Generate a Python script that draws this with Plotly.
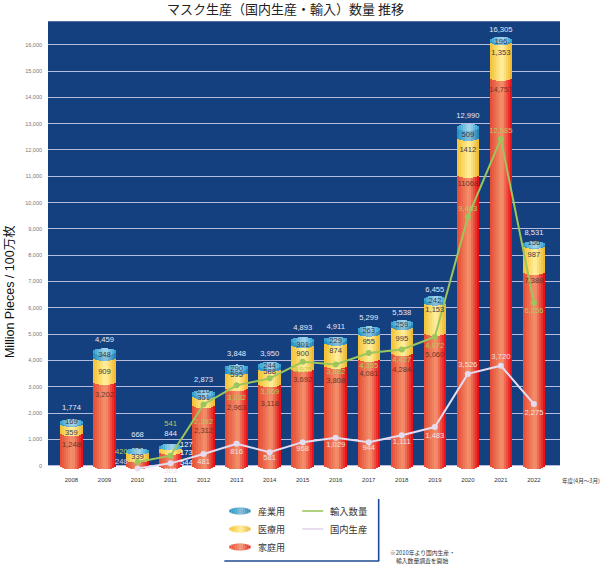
import plotly.graph_objects as go

# ---------- data ----------
years = list(range(2008, 2023))
household = [1248, 3202, 248, 544, 2312, 2963, 3118, 3692, 3808, 4081, 4284, 5060, 11068, 14757, 7388]
medical = [359, 909, 339, 173, 351, 595, 588, 900, 874, 955, 995, 1153, 1412, 1353, 987]
industrial = [169, 348, 78, 127, 210, 290, 244, 301, 229, 263, 259, 242, 509, 196, 156]
totals = [1774, 4459, 668, 844, 2873, 3848, 3950, 4893, 4911, 5299, 5538, 6455, 12990, 16305, 8531]

line_years = list(range(2010, 2023))
imports_drawn = [140, 380, 2330, 3055, 3320, 3950, 3850, 4280, 4420, 4890, 9450, 12420, 6195]
domestic_drawn = [-110, 90, 445, 830, 510, 895, 1060, 895, 1155, 1470, 3490, 3800, 2345]
imports_text = ["420", "541", "2,392", "3,032", "3,369", "3,925", "3,882", "4,355", "4,427", "4,972", "9,463", "12,585", "6,256"]
domestic_text = ["300", "303", "481", "816", "581", "968", "1,029", "944", "1,111", "1,483", "3,526", "3,720", "2,275"]

total_text = ["1,774", "4,459", "668", "844", "2,873", "3,848", "3,950", "4,893", "4,911", "5,299", "5,538", "6,455", "12,990", "16,305", "8,531"]
household_text = ["1,248", "3,202", "248", "544", "2,312", "2,963", "3,118", "3,692", "3,808", "4,081", "4,284", "5,060", "11068", "14,757", "7,388"]
medical_text = ["359", "909", "339", "173", "351", "595", "588", "900", "874", "955", "995", "1,153", "1412", "1,353", "987"]
industrial_text = ["169", "348", "78", "127", "210", "290", "244", "301", "229", "263", "259", "242", "509", "196", "156"]

y_ticks = list(range(0, 17000, 1000))
legend_bars = ["産業用", "医療用", "家庭用"]
legend_lines = ["輸入数量", "国内生産"]

# ---------- label placement (axis units) ----------
total_ly = [2177, 4785, 1165, 1190, 3240, 4228, 4228, 5215, 5280, 5607, 5810, 6683, 13270, 16560, 8840]
house_ly = [790, 2680, 140, 110, 1316, 2200, 2354, 3250, 3215, 3468, 3630, 4200, 10700, 14280, 7020]
med_ly = [1253, 3544, 340, 470, 2557, 3460, 3550, 4240, 4340, 4680, 4800, 5900, 12000, 15700, 8000]
ind_ly = [1658, 4200, 700, 785, 2850, 3680, 3800, 4600, 4720, 5100, 5350, 6270, 12570, 16100, 8450]
house_dx = [0, 0, -0.49, 0.48] + [0] * 11
med_dx = [0, 0, 0, 0.48] + [0] * 11
ind_dx = [0, 0, 0, 0.48] + [0] * 11
imp_ly = [500, 1570, 1658, 2580, 2810, 3630, 3545, 3785, 4000, 4544, 9770, 12720, 5880]
imp_dx = [-0.49] + [0] * 12
dom_ly = [-340, -190, 150, 530, 300, 620, 785, 660, 885, 1115, 3820, 4130, 2000]

# ---------- style ----------
NAVY = "#14407f"
GRID = "#b8bcdc"
NUM_FONT = "Liberation Sans"
JP_FONT = "Noto Sans CJK JP"
RED = ["#e64a32", "#f2946e", "#e60510"]
YEL = ["#f4c030", "#fff0a0", "#eeb525"]
BLU = ["#1a90c4", "#8cc0da", "#1a80b4"]
CAP = ["#2f9fd0", "#a8d6ea", "#28a0d4"]
H = 130.0
BAR_W = 0.68
N = 11
W, HT = 600, 564
L, R, T, B = 47.5, 40, 21, 91


def hex2(c):
    return [int(c[i:i + 2], 16) for i in (1, 3, 5)]


def grad(stops, u):
    a, b = (stops[0], stops[1]) if u < 0.1 else (stops[1], stops[2])
    t = (u + 1) / 1.1 if u < 0.1 else (u - 0.1) / 0.9
    ca, cb = hex2(a), hex2(b)
    return "rgb(%d,%d,%d)" % tuple(round(p + (q - p) * t) for p, q in zip(ca, cb))


def bulge(u):
    return H * max(0.0, 1 - u * u) ** 0.5


fig = go.Figure()
red_top = household
yel_top = [a + b for a, b in zip(household, medical)]
body_top = [t - H for t in totals]
lows = {"r": [0] * 15, "y": red_top, "b": yel_top}

for stops, low, high, top_curve in [
    (RED, lows["r"], red_top, False),
    (YEL, lows["y"], yel_top, False),
    (BLU, lows["b"], body_top, False),
    (CAP, body_top, body_top, True),
]:
    for i in range(N):
        u = -1 + (2 * i + 1) / N
        d = bulge(u)
        base = [v - d for v in low]
        tops = [v + d for v in high] if top_curve else high
        fig.add_trace(go.Bar(
            x=years, y=[t - b for t, b in zip(tops, base)], base=base,
            width=BAR_W / N * 1.1,
            offset=-BAR_W / 2 + i * BAR_W / N,
            marker=dict(color=grad(stops, u), line_width=0),
            hoverinfo="skip", showlegend=False, cliponaxis=False,
        ))

# lines
fig.add_trace(go.Scatter(x=line_years, y=imports_drawn, mode="lines+markers",
                         line=dict(color="#9cc65c", width=2), marker=dict(color="#9cc65c", size=6),
                         cliponaxis=False, showlegend=False))
fig.add_trace(go.Scatter(x=line_years, y=domestic_drawn, mode="lines+markers",
                         line=dict(color="#e4dcf0", width=2), marker=dict(color="#e4dcf0", size=6),
                         cliponaxis=False, showlegend=False))


def labels(xs, ys, texts, colors, size=7.6):
    fig.add_trace(go.Scatter(x=xs, y=ys, text=texts, mode="text", textposition="middle center",
                             textfont=dict(family=NUM_FONT, size=size, color=colors),
                             cliponaxis=False, showlegend=False, hoverinfo="skip"))


DARK = "#3a3a48"
OUT = "#e8e8f8"
labels(years, total_ly, total_text, OUT)
house_col = ["#6a3428"] * 15
house_col[2] = "#c8c8f0"
house_col[3] = "#ffffff"
labels([y + d for y, d in zip(years, house_dx)], house_ly, household_text, house_col)
med_col = [DARK] * 15
med_col[3] = "#ffffff"
labels([y + d for y, d in zip(years, med_dx)], med_ly, medical_text, med_col)
ind_col = [DARK] * 15
ind_col[3] = "#ffffff"
labels([y + d for y, d in zip(years, ind_dx)], ind_ly, industrial_text, ind_col)
labels([y + d for y, d in zip(line_years, imp_dx)], imp_ly, imports_text, "#b0cc60")
dom_col = ["#f0e0e8"] * 13
dom_col[0] = "#222222"
labels(line_years, dom_ly, domestic_text, dom_col)

# ---------- page furniture ----------
PW = W - L - R
PH = HT - T - B


def px(x):
    return (x - L) / PW


def py(y):
    return 1 - (y - T) / PH


shapes = [
    dict(type="rect", xref="paper", yref="y", x0=0, x1=1, y0=0, y1=16902,
         fillcolor=NAVY, line_width=0, layer="below"),
    dict(type="line", xref="paper", yref="y", x0=0, x1=1, y0=16902, y1=16902,
         line=dict(color="#8f9cc8", width=1), layer="below"),
    dict(type="line", xref="paper", yref="paper", x0=px(378.5), x1=px(378.5), y0=py(499), y1=py(561),
         line=dict(color="#1f4a94", width=1.6)),
    dict(type="line", xref="paper", yref="paper", x0=px(224), x1=px(379), y0=py(561), y1=py(561),
         line=dict(color="#1f4a94", width=1.6)),
    dict(type="line", xref="paper", yref="paper", x0=px(302), x1=px(323), y0=py(511), y1=py(511),
         line=dict(color="#9cc65c", width=1.6)),
    dict(type="line", xref="paper", yref="paper", x0=px(302), x1=px(323), y0=py(529), y1=py(529),
         line=dict(color="#e4d4ec", width=1.6)),
]
for stops, cy in [(BLU, 511), (YEL, 529), (["#e8482c", "#f4a080", "#e61a10"], 547)]:
    for i in range(11):
        u = -1 + (2 * i + 1) / 11
        x0 = 229 + 21 * i / 11
        hh = 3.6 * (1 - u * u) ** 0.5
        shapes.append(dict(type="rect", xref="paper", yref="paper",
                           x0=px(x0), x1=px(x0 + 21 / 11 + 0.2), y0=py(cy - hh), y1=py(cy + hh),
                           fillcolor=grad(stops, u), line_width=0))

ann = []


def note(x, y, text, size, color="#222222", family=JP_FONT, anchor="left", angle=0):
    ann.append(dict(xref="paper", yref="paper", x=px(x), y=py(y), text=text, showarrow=False,
                    xanchor=anchor, yanchor="middle", textangle=angle,
                    font=dict(family=family, size=size, color=color)))


note(285, 8.5, "マスク生産（国内生産・輸入）数量 推移", 13, "#222222", anchor="center")
note(8.5, 292, "Million Pieces / 100万枚", 12.5, "#111111", family="Liberation Sans, " + JP_FONT,
     anchor="center", angle=-90)
note(560, 481, "年度(4月～3月)", 5.6, "#333333")
for name, cy in zip(legend_bars, [511, 529, 547]):
    note(256, cy, name, 9, "#333333")
for name, cy in zip(legend_lines, [511, 529]):
    note(328, cy, name, 9.3, "#333333")
note(422, 552, "※\ufe0e2010年より国内生産・", 5.8, "#333333", anchor="center")
note(422, 560, "輸入数量調査を開始", 5.8, "#333333", anchor="center")

fig.update_layout(
    width=W, height=HT, autosize=False,
    margin=dict(l=L, r=R, t=T, b=B, pad=0),
    barmode="overlay", bargap=0,
    paper_bgcolor="white", plot_bgcolor="white",
    shapes=shapes, annotations=ann, showlegend=False,
    xaxis=dict(range=[2007.29, 2022.79], tickvals=years, ticktext=[str(y) for y in years],
               showgrid=False, zeroline=False, showline=False, ticks="",
               tickfont=dict(family="Liberation Sans", size=6, color="#333333"), ticklabelstandoff=2),
    yaxis=dict(range=[-277, 16902], tickvals=y_ticks, ticktext=[f"{v:,}" for v in y_ticks],
               showgrid=True, gridcolor=GRID, gridwidth=1.3, zeroline=False, showline=False, ticks="",
               ticklabelstandoff=5,
               tickfont=dict(family="Liberation Sans", size=5.5, color="#777777")),
)
fig.write_html("out.html", config={"displayModeBar": False},
               post_script="document.body.style.margin='0';document.documentElement.style.margin='0';")
